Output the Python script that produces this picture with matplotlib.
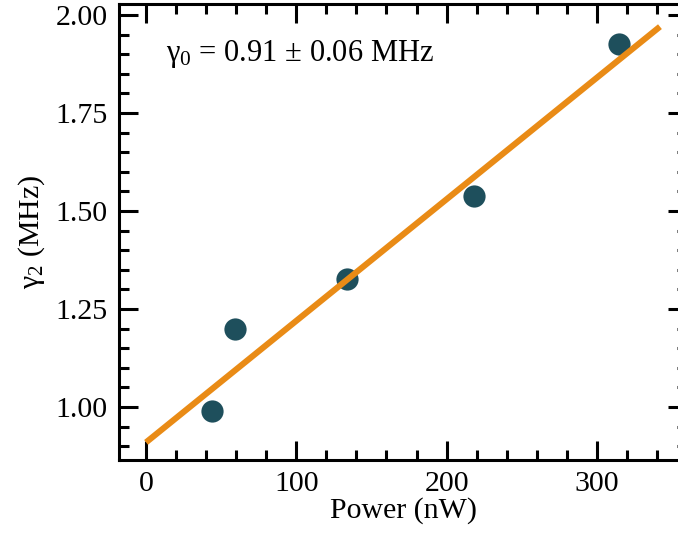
import numpy as np
import matplotlib
matplotlib.use("Agg")
import matplotlib.pyplot as plt
from matplotlib.ticker import MultipleLocator

# ---------------------
# Дані
# ---------------------
power_nw = [44, 59, 134, 218, 315]
gamma2_mhz = [0.99, 1.198, 1.327, 1.538, 1.927]

# лінійна апроксимація gamma2 = gamma0 + k * P
gamma0 = 0.91
slope = 0.00310
fit_x = [0, 342]

plt.rcParams["font.family"] = ["Liberation Serif", "DejaVu Serif"]
plt.rcParams["mathtext.fontset"] = "custom"
plt.rcParams["mathtext.rm"] = "Liberation Serif"
plt.rcParams["mathtext.default"] = "regular"

fig = plt.figure(figsize=(6.78, 5.33), dpi=100)
ax = fig.add_axes([119 / 678, 73 / 533, 568 / 678, 456 / 533])

fit_y = gamma0 + slope * np.array(fit_x)
ax.plot(fit_x, fit_y, color="#e98b16", lw=4.4, solid_capstyle="butt", zorder=3)
ax.plot(power_nw, gamma2_mhz, "o", color="#1e4f5c", ms=16, mec="none", zorder=2)

ax.set_xlim(-18, 360)
ax.set_ylim(0.865, 2.028)
ax.xaxis.set_major_locator(MultipleLocator(100))
ax.xaxis.set_minor_locator(MultipleLocator(20))
ax.yaxis.set_major_locator(MultipleLocator(0.25))
ax.yaxis.set_minor_locator(MultipleLocator(0.05))
ax.yaxis.set_major_formatter(matplotlib.ticker.FormatStrFormatter("%.2f"))

ax.tick_params(which="both", direction="in", top=True, right=True, width=2.2,
               labelsize=21.5, pad=8)
ax.tick_params(which="major", length=14)
ax.tick_params(which="minor", length=7)
for s in ax.spines.values():
    s.set_linewidth(2.2)

ax.set_xlabel("Power (nW)", fontsize=21.5, labelpad=0)
ax.set_ylabel("γ$_2$ (MHz)", fontsize=21.5, labelpad=6)

ax.text(13, 1.90, "γ$_0$ = 0.91 ± 0.06 MHz", fontsize=22, ha="left", va="center")

fig.savefig("out.png", dpi=100)
